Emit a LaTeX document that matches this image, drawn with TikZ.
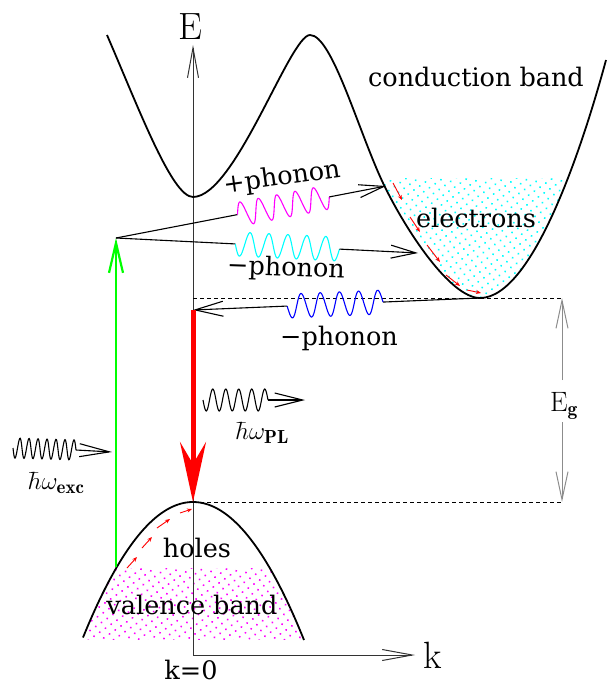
\documentclass[tikz,border=0pt]{standalone}
\usepackage{fontspec}
\newfontfamily\lbfont{DejaVu Serif}
\usetikzlibrary{arrows.meta,patterns.meta,calc}
\definecolor{mag}{RGB}{255,0,255}
\definecolor{cya}{RGB}{0,255,255}
\definecolor{grn}{RGB}{0,255,0}
\definecolor{rd}{RGB}{255,0,0}
\definecolor{blu}{RGB}{0,0,255}
\begin{document}
\begin{tikzpicture}[x=1pt,y=-1pt,
  lbl/.style={font=\lbfont\fontsize{25.5}{27}\selectfont, inner sep=0pt},
  big/.style={font=\fontsize{38}{40}\selectfont, inner sep=0pt},
  mth/.style={font=\fontsize{27}{28}\selectfont, inner sep=0pt},
  band/.style={line width=1.8pt},
  axis/.style={line width=1pt, black!80},
  conn/.style={line width=1.1pt},
  wv/.style={line width=1.1pt},
  barb/.style args={#1/#2}{-{Straight Barb[length=#1,width=#2]}},
  redsmall/.style={rd, line width=0.9pt, -{Stealth[length=5pt,width=4pt]}},
  dashln/.style={line width=0.9pt, dash pattern=on 4pt off 3pt},
  dotfill/.style={pattern={Dots[distance=7pt,radius=1.1pt,angle=35]}, pattern color=#1},
]
\useasboundingbox (0,0) rectangle (606,685);
\def\cvalley{(310,35) .. controls (332,35) and (358,130) .. (383,183)
   .. controls (405,229) and (450,298) .. (480,298)
   .. controls (535,298) and (586,134) .. (606,60)}

% ---- fills ----
\begin{scope}
  \clip (340,178) rectangle (606,305);
  \fill[dotfill=cya] \cvalley -- cycle;
\end{scope}
\begin{scope}
  \clip (0,568) rectangle (606,639);
  \fill[dotfill=mag]
    plot[domain=80:306,samples=80] (\x,{502+0.0112*(\x-193)*(\x-193)}) -- cycle;
\end{scope}

% ---- axes ----
\coordinate (O) at (193,655);
\coordinate (Etip) at (193,45);
\coordinate (ktip) at (415,655);
\draw[axis, barb=30pt/11pt] (O) -- (Etip);
\draw[axis, barb=30pt/11pt] (O) -- (ktip);
\node[big] (Elbl) at (190,27) {E};
\node[big] (klbl) at (433,655) {k};
\node[lbl] (k0) at (191,670) {k=0};

% ---- bands ----
\draw[band] (107,35) .. controls (139,109) and (172,197) .. (193,197)
   .. controls (235,197) and (290,35) .. \cvalley;
\draw[band] plot[domain=83:304,samples=80] (\x,{502+0.0112*(\x-193)*(\x-193)});

\node[lbl] (cb) at (476,77) {conduction band};
\node[lbl] (el) at (476,218) {electrons};
\node[lbl] (ho) at (197,548) {holes};
\node[lbl] (vb) at (192,605) {valence band};

% ---- gap ----
\coordinate (cmin) at (480,298);
\coordinate (vtop) at (193,502);
\coordinate (dtop) at (562,298);
\coordinate (dbot) at (562,502);
\coordinate (eg1) at (562,380);
\coordinate (eg2) at (562,422);
\draw[dashln] (193,298) -- (dtop);
\draw[dashln] (vtop) -- (dbot);
\node[font=\fontsize{28}{29}\selectfont, inner sep=0pt] (Eg) at (564,406) {E$_{\mathbf{g}}$};
\draw[line width=1pt, black!45, barb=28pt/12pt] (eg1) -- (dtop);
\draw[line width=1pt, black!45, barb=28pt/12pt] (eg2) -- (dbot);

% ---- excitation ----
\coordinate (G) at (116,238);
\coordinate (Gb) at (116,567);
\draw[grn, line width=2.6pt, -{Straight Barb[length=30pt,width=14pt,line width=2.2pt]}] (Gb) -- (G);

\coordinate (mtip) at (386,186);
\coordinate (m1) at ($(G)!0.45!(mtip)$);
\coordinate (m2) at ($(G)!0.79!(mtip)$);
\draw[conn] (G) -- (m1);
\begin{scope}[shift={(m1)}, rotate=10.9]
  \draw[mag, wv] plot[domain=0:93.49, samples=150, smooth] (\x,{-12*sin(\x/18.698*360)});
\end{scope}
\draw[conn, barb=25pt/13pt] (m2) -- (mtip);
\node[lbl, rotate=8] (pp) at (282,178) {+phonon};

\coordinate (ctip) at (418,253);
\coordinate (c1) at ($(G)!0.395!(ctip)$);
\coordinate (c2) at ($(G)!0.74!(ctip)$);
\draw[conn] (G) -- (c1);
\begin{scope}[shift={(c1)}, rotate=-2.84]
  \draw[cya, wv] plot[domain=0:104.32, samples=160, smooth] (\x,{12*sin(\x/18.967*360)});
\end{scope}
\draw[conn, barb=25pt/13pt] (c2) -- (ctip);
\node[lbl, rotate=-2] (mp1) at (286,269) {−phonon};

% ---- relaxation arrows ----
\draw[redsmall] (393,183) -- (402,200);
\draw[redsmall] (410,217) -- (420,232);
\draw[redsmall] (427,245) -- (440,262);
\draw[redsmall] (446,275) -- (460,286);
\draw[redsmall] (467,290) -- (481,293);

\draw[redsmall] (127,568) -- (137,557);
\draw[redsmall] (142,548) -- (152,537);
\draw[redsmall] (157,528) -- (170,519);
\draw[redsmall] (180,513) -- (192,509);

% ---- blue phonon ----
\coordinate (btip) at (193,310);
\coordinate (b1) at ($(cmin)!0.338!(btip)$);
\coordinate (b2) at ($(cmin)!0.672!(btip)$);
\draw[conn] (cmin) -- (b1);
\begin{scope}[shift={(b1)}, rotate=182.39]
  \draw[blu, wv] plot[domain=0:95.94, samples=150, smooth] (\x,{12*sin(\x/19.188*360)});
\end{scope}
\draw[conn, barb=28pt/15pt] (b2) -- (btip);
\node[lbl] (mp2) at (339,338) {−phonon};

% ---- recombination ----
\draw[rd, line width=5pt, -{Stealth[length=60pt,width=26pt,inset=22pt]}] (btip) -- (vtop);

% ---- photons ----
\coordinate (pl1) at (203,400);
\coordinate (pl2) at (268,400);
\coordinate (pl3) at (305,400);
\begin{scope}[shift={(pl1)}]
  \draw[wv] plot[domain=0:65, samples=120, smooth] (\x,{11*sin(\x/13*360)});
\end{scope}
\draw[conn, barb=28pt/14pt] (pl2) -- (pl3);
\node[mth] (plt) at (262,433) {$\hbar\omega_{\mathbf{PL}}$};

\coordinate (ex1) at (13,448);
\coordinate (ex2) at (76,450);
\coordinate (ex3) at (112,452);
\begin{scope}[shift={(ex1)}, rotate=-1.8]
  \draw[wv] plot[domain=0:63.03, samples=140, smooth] (\x,{10*sin(\x/9.004*360)});
\end{scope}
\draw[conn, barb=30pt/13pt] (ex2) -- (ex3);
\node[mth] (ext) at (56,483) {$\hbar\omega_{\mathbf{exc}}$};
\end{tikzpicture}
\end{document}
